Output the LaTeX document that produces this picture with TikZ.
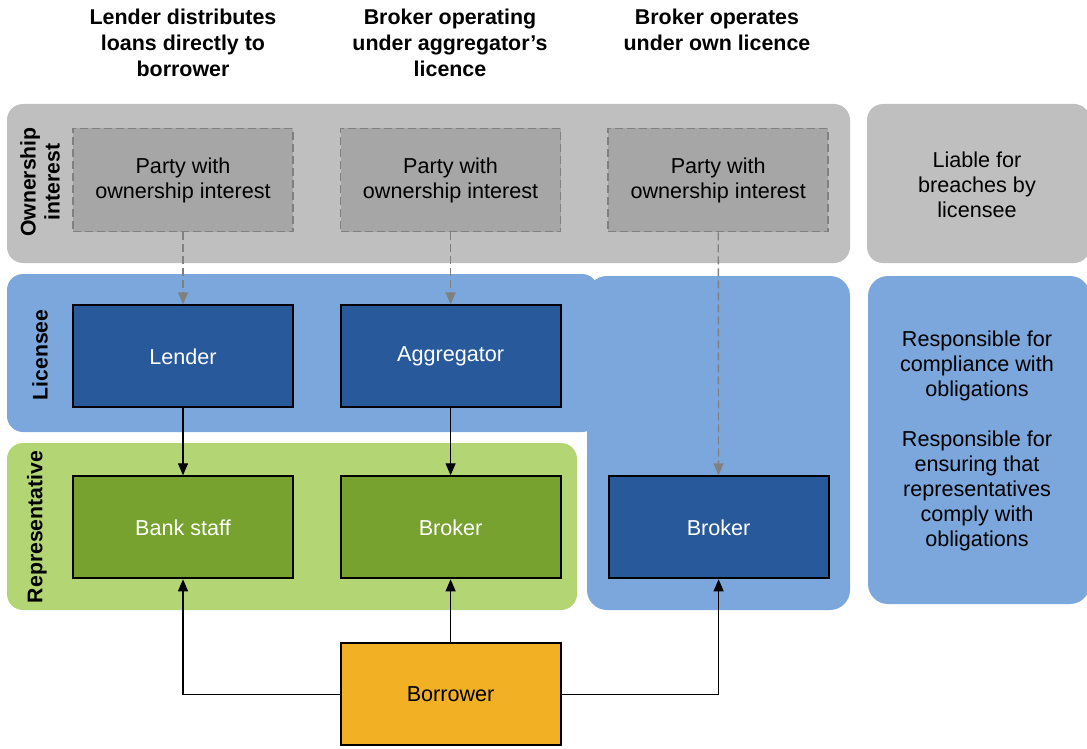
\documentclass[tikz,border=0pt]{standalone}
\usepackage{fontspec}
\setmainfont{Liberation Sans}
\usetikzlibrary{positioning,arrows.meta}
\definecolor{ownband}{HTML}{BFBFBF}
\definecolor{ownbox}{HTML}{A6A6A6}
\definecolor{ownline}{HTML}{808080}
\definecolor{licband}{HTML}{7BA7DD}
\definecolor{licbox}{HTML}{285A9B}
\definecolor{repband}{HTML}{B3D574}
\definecolor{repbox}{HTML}{77A22F}
\definecolor{borrow}{HTML}{F2B124}

\begin{document}
\begin{tikzpicture}[
      x=0.5pt, y=-0.5pt,
      font=\fontsize{10.8}{12.5}\selectfont,
      node distance=36pt and 23pt,
      party/.style={draw=ownline, dashed, dash pattern=on 4pt off 2pt, line width=0.8pt,
                    fill=ownbox, minimum width=110pt, minimum height=51.5pt, align=center},
      licensee/.style={draw, line width=1pt, fill=licbox, text=white,
                       minimum width=110pt, minimum height=51pt, align=center},
      rep/.style={draw, line width=1pt, fill=repbox, text=white,
                  minimum width=110pt, minimum height=51pt, align=center},
      borrower/.style={draw, line width=1pt, fill=borrow,
                       minimum width=110pt, minimum height=51pt, align=center},
      head/.style={font=\fontsize{10.7}{13}\selectfont\bfseries, align=center},
      rowlbl/.style={font=\fontsize{10.6}{12}\selectfont\bfseries, align=center, rotate=90},
      note/.style={align=center},
      dep/.style={-{Triangle[length=6pt, width=5pt]}, ownline, line width=0.7pt,
                  dash pattern=on 4pt off 2pt},
      flow/.style={-{Triangle[length=6pt, width=5pt]}, line width=0.6pt}
    ]

    \useasboundingbox (0,0) rectangle (1087,749);

    % bands
    \fill[ownband, rounded corners=8pt] (7,104) rectangle (850,263);
    \fill[ownband, rounded corners=8pt] (867,104) rectangle (1090,263);
    \fill[licband, rounded corners=8pt] (7,274) rectangle (598,432);
    \fill[licband, rounded corners=10pt] (587,276) rectangle (850,610);
    \fill[repband, rounded corners=8pt] (7,443) rectangle (577,610);
    \fill[licband, rounded corners=10pt] (868,276) rectangle (1090,604);

    % column headings
    \node[head] (h1) at (183,43) {Lender distributes\\loans directly to\\borrower};
    \node[head] (h2) at (450,43) {Broker operating\\under aggregator's\\licence};
    \node[head] (h3) at (717,30) {Broker operates\\under own licence};

    % row labels
    \node[rowlbl] (lblown) at (40,182) {Ownership\\interest};
    \node[rowlbl] (lbllic) at (40,355) {Licensee};
    \node[rowlbl] (lblrep) at (37,527) {Representative};

    \node[party] (own1) at (183,180) {Party with\\ownership interest};
    \node[party, right=of own1] (own2) {Party with\\ownership interest};
    \node[party, right=of own2] (own3) {Party with\\ownership interest};

    \node[licensee, below=of own1] (lender) {Lender};
    \node[licensee, below=of own2] (aggr) {Aggregator};
    \node[rep, below=33.5pt of lender] (staff) {Bank staff};
    \node[rep, below=33.5pt of aggr] (broker) {Broker};
    \node[licensee, right=of broker] (ownbroker) {Broker};
    \node[borrower, below=31.5pt of broker] (borrower) {Borrower};

    % side notes
    \node[note] (liable) at (977,185) {Liable for\\breaches by\\licensee};
    \node[note] (resp) at (977,441)
      {Responsible for\\compliance with\\obligations\\[12.5pt]Responsible for\\ensuring that\\representatives\\comply with\\obligations};

    \draw[dep] (own1) -- (lender);
    \draw[dep] (own2) -- (aggr);
    \draw[dep] (own3) -- (ownbroker);
    \draw[flow] (lender) -- (staff);
    \draw[flow] (aggr) -- (broker);
    \draw[flow] (borrower.west) -| (staff.south);
    \draw[flow] (borrower.north) -- (broker.south);
    \draw[flow] (borrower.east) -| (ownbroker.south);

  \end{tikzpicture}
\end{document}
